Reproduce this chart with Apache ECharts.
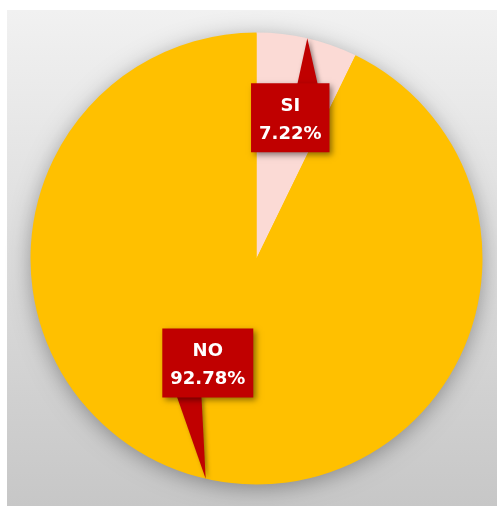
<!DOCTYPE html>
<html><head><meta charset="utf-8">
<script src="https://cdn.jsdelivr.net/npm/echarts@6/dist/echarts.min.js"></script>
<style>html,body{margin:0;padding:0;background:#fff}#c{width:497px;height:506px}</style>
</head><body><div id="c"></div>
<script>
// ---- data ----
const categories = ['SI', 'NO'];
const values = [7.22, 92.78];
const sliceColors = ['#FBDAD5', '#FFC000'];

// ---- callout placement (style, not data) ----
// [fraction of radius, angle shift from slice mid-angle in degrees]
const calloutPlace = [[0.64, 0.5], [0.51, 12]];
// pointer base: edge of box, start/end as fraction of box width
const pointerBase = [['top', 0.59, 0.85], ['bottom', 0.16, 0.43]];

const FONT_FAMILY = 'DejaVu Sans';
const FONT_SIZE = 18;
const PAD_X = 8;
const BOX_H = 69;
const CALLOUT_COLOR = '#C00000';

const chart = echarts.init(document.getElementById('c'), null, {renderer: 'canvas'});

const bg = {
  type: 'rect', id: 'bg', left: 7, top: 10, z: -10, silent: true,
  shape: {width: 490, height: 496},
  style: {fill: new echarts.graphic.LinearGradient(0, 0, 0, 1, [
    {offset: 0, color: '#f1f1f1'}, {offset: 1, color: '#c7c7c7'}])}
};

chart.setOption({
  animation: false,
  backgroundColor: '#ffffff',
  graphic: [bg],
  series: [{
    type: 'pie', center: [256.5, 258.5], radius: 226, startAngle: 90, clockwise: true,
    silent: true, z: 2,
    label: {show: false}, labelLine: {show: false},
    data: categories.map((c, i) => ({name: c, value: values[i], itemStyle: {color: sliceColors[i]}}))
  }]
});

// second pass: build callouts from the library's own slice layout
const data = chart.getModel().getSeriesByIndex(0).getData();
const total = values.reduce((a, b) => a + b, 0);
const ctx = document.createElement('canvas').getContext('2d');
ctx.font = 'bold ' + FONT_SIZE + 'px "' + FONT_FAMILY + '"';

const els = [bg];
const L0 = data.getItemLayout(0);
els.push({
  type: 'circle', z: 1, silent: true,
  shape: {cx: L0.cx, cy: L0.cy, r: L0.r - 1},
  style: {fill: '#FFC000', shadowBlur: 22, shadowOffsetY: 4, shadowColor: 'rgba(0,0,0,0.35)'}
});

categories.forEach((name, i) => {
  const L = data.getItemLayout(i);
  const mid = (L.startAngle + L.endAngle) / 2;
  const tip = [L.cx + L.r * Math.cos(mid), L.cy + L.r * Math.sin(mid)];
  const ang = mid + calloutPlace[i][1] * Math.PI / 180;
  const dist = calloutPlace[i][0] * L.r;
  const bc = [L.cx + dist * Math.cos(ang), L.cy + dist * Math.sin(ang)];
  const pct = (values[i] / total * 100).toFixed(2) + '%';
  const w = Math.max(ctx.measureText(name).width, ctx.measureText(pct).width) + 2 * PAD_X;
  const left = bc[0] - w / 2, top = bc[1] - BOX_H / 2;
  const pb = pointerBase[i];
  const ey = pb[0] === 'top' ? top + 1 : top + BOX_H - 1;
  els.push({
    type: 'polygon', z: 10, silent: true,
    shape: {points: [[left + pb[1] * w, ey], tip, [left + pb[2] * w, ey]]},
    style: {fill: CALLOUT_COLOR, shadowBlur: 4, shadowOffsetX: 2, shadowOffsetY: 1, shadowColor: 'rgba(0,0,0,0.4)'}
  });
  els.push({
    type: 'rect', z: 11, silent: true,
    shape: {x: left, y: top, width: w, height: BOX_H},
    style: {fill: CALLOUT_COLOR, shadowBlur: 6, shadowOffsetX: 3, shadowOffsetY: 3, shadowColor: 'rgba(0,0,0,0.45)'}
  });
  [[name, -12], [pct, 16]].forEach(([t, dy]) => {
    els.push({
      type: 'text', z: 12, silent: true,
      style: {x: bc[0], y: bc[1] + dy, text: t, fill: '#ffffff', align: 'center', verticalAlign: 'middle',
        font: 'bold ' + FONT_SIZE + 'px "' + FONT_FAMILY + '"'}
    });
  });
});

chart.setOption({graphic: els}, {replaceMerge: ['graphic']});
</script>
</body></html>
